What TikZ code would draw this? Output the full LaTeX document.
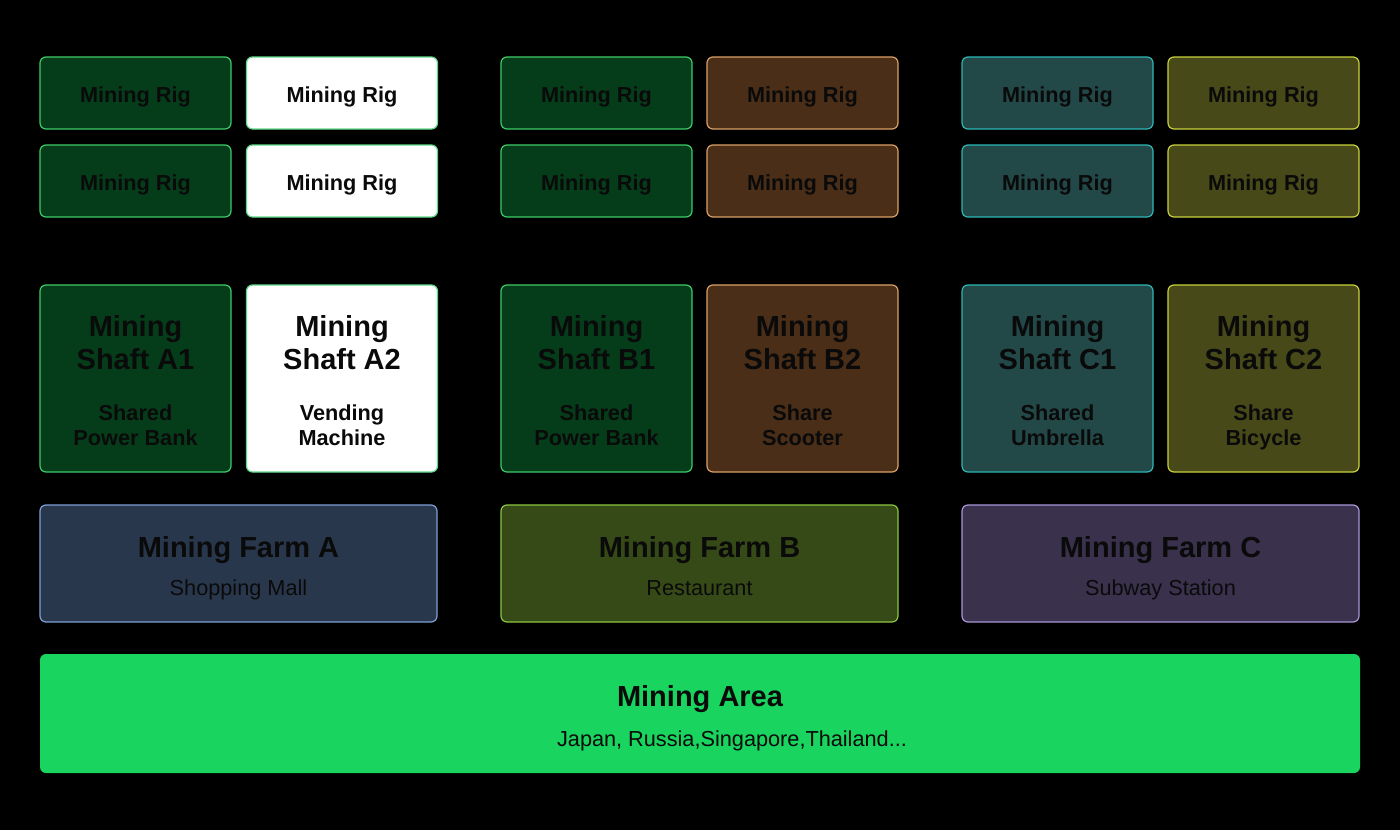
\documentclass[tikz,border=0pt]{standalone}
\usepackage{fontspec}
\setmainfont{Liberation Sans}
\definecolor{gfill}{HTML}{053D1A}
\definecolor{gline}{HTML}{3DCB68}
\definecolor{wline}{HTML}{5ED98A}
\definecolor{bfill}{HTML}{4A2E17}
\definecolor{bline}{HTML}{D9A066}
\definecolor{tfill}{HTML}{234848}
\definecolor{tline}{HTML}{2DB8B8}
\definecolor{ofill}{HTML}{474A18}
\definecolor{oline}{HTML}{C9D13A}
\definecolor{fafill}{HTML}{29374D}
\definecolor{faline}{HTML}{7E9FD6}
\definecolor{fbfill}{HTML}{364A17}
\definecolor{fbline}{HTML}{8BC53F}
\definecolor{fcfill}{HTML}{3A314D}
\definecolor{fcline}{HTML}{A897D9}
\definecolor{areafill}{HTML}{19D45E}
\definecolor{ink}{HTML}{0A0A0A}
\tikzset{
  box/.style={draw, line width=1.2pt, rounded corners=6pt, inner sep=0pt, outer sep=0pt},
  rigbox/.style={box, minimum width=191pt, minimum height=72pt},
  shaftbox/.style={box, minimum width=191pt, minimum height=187pt},
  farmbox/.style={box, minimum width=397pt, minimum height=117pt},
  green/.style={fill=gfill, draw=gline},
  white/.style={fill=white, draw=wline},
  brown/.style={fill=bfill, draw=bline},
  teal/.style={fill=tfill, draw=tline},
  olive/.style={fill=ofill, draw=oline},
  rigtxt/.style={anchor=base, inner sep=0pt, text=ink, font=\fontsize{21.7}{25}\selectfont\bfseries},
  bigtxt/.style={anchor=base, inner sep=0pt, text=ink, font=\fontsize{29}{33}\selectfont\bfseries},
  subtxt/.style={anchor=base, inner sep=0pt, text=ink, font=\fontsize{21.7}{25}\selectfont\bfseries},
  plaintxt/.style={anchor=base, inner sep=0pt, text=ink, font=\fontsize{21.7}{25}\selectfont},
}
\newcommand{\rigpair}[3]{%
  \node[rigbox,#3] (#1a) at (#2,93) {};
  \node[rigtxt] (#1at) at (#2,102) {Mining Rig};
  \node[rigbox,#3] (#1b) at (#2,181) {};
  \node[rigtxt] (#1bt) at (#2,190) {Mining Rig};
}
\newcommand{\shaftbox}[6]{%
  \node[shaftbox,#3] (#1) at (#2,378.5) {};
  \node[bigtxt] (#1t1) at (#2,336.2) {Mining};
  \node[bigtxt] (#1t2) at (#2,369.2) {Shaft #4};
  \node[subtxt] (#1s1) at (#2,420.8) {#5};
  \node[subtxt] (#1s2) at (#2,445.8) {#6};
}
\newcommand{\farmbox}[6]{%
  \node[farmbox,fill=#3,draw=#4] (#1) at (#2,563.5) {};
  \node[bigtxt] (#1t) at (#2,557.2) {Mining Farm #5};
  \node[plaintxt] (#1s) at (#2,595.8) {#6};
}
\begin{document}
\begin{tikzpicture}[x=1pt,y=-1pt]
\fill[black] (0,0) rectangle (1400,830);
\useasboundingbox (0,0) rectangle (1400,830);
% rigs
\rigpair{rA1}{135.5}{green}
\rigpair{rA2}{342}{white}
\rigpair{rB1}{596.5}{green}
\rigpair{rB2}{802.5}{brown}
\rigpair{rC1}{1057.5}{teal}
\rigpair{rC2}{1263.5}{olive}
% shafts
\shaftbox{sA1}{135.5}{green}{A1}{Shared}{Power Bank}
\shaftbox{sA2}{342}{white}{A2}{Vending}{Machine}
\shaftbox{sB1}{596.5}{green}{B1}{Shared}{Power Bank}
\shaftbox{sB2}{802.5}{brown}{B2}{Share}{Scooter}
\shaftbox{sC1}{1057.5}{teal}{C1}{Shared}{Umbrella}
\shaftbox{sC2}{1263.5}{olive}{C2}{Share}{Bicycle}
% farms
\farmbox{fA}{238.5}{fafill}{faline}{A}{Shopping Mall}
\farmbox{fB}{699.5}{fbfill}{fbline}{B}{Restaurant}
\farmbox{fC}{1160.5}{fcfill}{fcline}{C}{Subway Station}
% area
\node[box, draw=none, fill=areafill, minimum width=1320pt, minimum height=119pt] (area) at (700,713.5) {};
\node[bigtxt] (areat) at (700,706.2) {Mining Area};
\node[plaintxt] (areas) at (732,746.8) {Japan, Russia,Singapore,Thailand...};
\end{tikzpicture}
\end{document}
